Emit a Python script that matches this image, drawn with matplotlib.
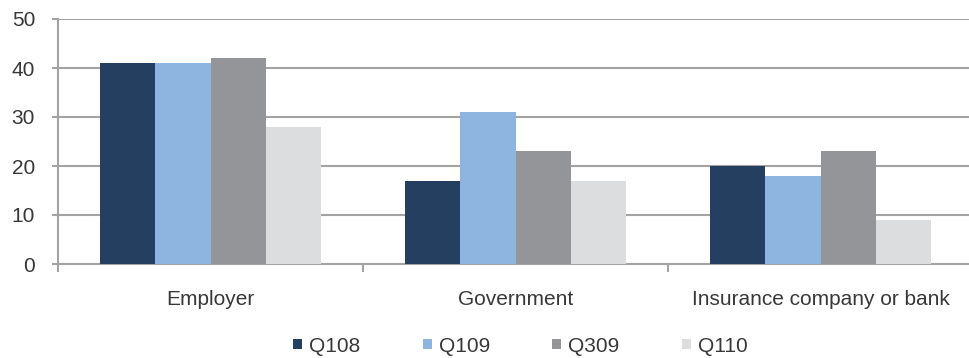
import matplotlib
matplotlib.use("Agg")
import matplotlib.pyplot as plt
import numpy as np
from matplotlib.patches import Patch

categories = ["Employer", "Government", "Insurance company or bank"]
series_names = ["Q108", "Q109", "Q309", "Q110"]
q108 = [41, 17, 20]
q109 = [41, 31, 18]
q309 = [42, 23, 23]
q110 = [28, 17, 9]
yticks = [0, 10, 20, 30, 40, 50]

values = [q108, q109, q309, q110]
colors = ["#243F60", "#8EB4E0", "#939598", "#DCDDDF"]

plt.rcParams['font.family'] = ['Liberation Sans', 'DejaVu Sans']
text_color = "#383838"
grid_color = "#A3A3A3"
fs = 15

fig = plt.figure(figsize=(9.69, 3.58), dpi=100)
ax = fig.add_axes([58/969, 1-264/358, 915/969, 245/358])

x = np.arange(len(categories))
w = 0.181
for i, (vals, c) in enumerate(zip(values, colors)):
    ax.bar(x + (i - 1.5) * w, vals, width=w, color=c, zorder=3, linewidth=0)

ax.set_xlim(-0.5, 2.5)
ax.set_ylim(0, 50)
ax.set_yticks(yticks)
ax.yaxis.grid(True, color=grid_color, linewidth=1.5, zorder=0)
ax.set_axisbelow(True)

for s in ["top", "right"]:
    ax.spines[s].set_visible(False)
for s in ["left", "bottom"]:
    ax.spines[s].set_color(grid_color)
    ax.spines[s].set_linewidth(1.5)

ax.set_xticks(x)
ax.set_xticklabels(categories)
ax.set_xticks([-0.5, 0.5, 1.5, 2.5], minor=True)
ax.tick_params(axis='x', which='major', length=0, pad=19, labelsize=fs, labelcolor=text_color)
ax.tick_params(axis='x', which='minor', length=6, width=1.5, color=grid_color, direction='out')
ax.tick_params(axis='y', length=4.5, width=1.5, color=grid_color, pad=12, labelsize=fs, labelcolor=text_color)

handles = [Patch(facecolor=c, edgecolor='none', label=n) for c, n in zip(colors, series_names)]
fig.legend(handles=handles, loc='center', bbox_to_anchor=(0.537, 1-346/358), ncol=4,
           frameon=False, handlelength=0.42, handleheight=0.42, handletextpad=0.34,
           columnspacing=3.0, fontsize=fs, labelcolor=text_color, borderpad=0, borderaxespad=0)

fig.savefig("out.png", dpi=100)
